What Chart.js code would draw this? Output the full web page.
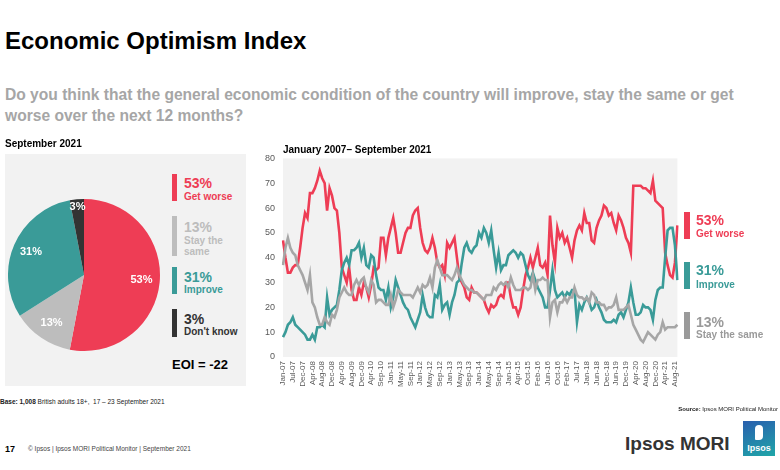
<!DOCTYPE html>
<html>
<head>
<meta charset="utf-8">
<script src="https://cdn.jsdelivr.net/npm/chart.js@4.4.1/dist/chart.umd.min.js"></script>
<style>
  html, body { margin: 0; padding: 0; background: #fff; }
  body { width: 780px; height: 470px; position: relative; overflow: hidden;
         font-family: "Liberation Sans", Arial, Helvetica, sans-serif; }
  .t { position: absolute; white-space: nowrap; }
  .box { position: absolute; }
  canvas { position: absolute; }
</style>
</head>
<body>
<div class="box" style="left:5px;top:154px;width:241px;height:232px;background:#f2f2f2"></div>
<canvas id="pieChart" width="152" height="152" style="left:8px;top:199px"></canvas>
<canvas id="lineChart" width="451" height="255" style="left:240px;top:145px"></canvas>
<div class="box" style="left:743px;top:421px;width:32px;height:35px;background:linear-gradient(160deg,#2a5fae,#1fa6a8)">
  <div style="position:absolute;left:12px;top:4px;width:8px;height:15px;border-radius:4px 4px 4px 1px;background:#fff"></div>
  <div style="position:absolute;left:0;right:0;bottom:3px;text-align:center;color:#fff;font-size:9px;font-weight:bold;line-height:9px">Ipsos</div>
</div>
<script>
const red = "#ee3d55";
const teal = "#3a9b98";
const lineGray = "#a6a6a6";
const pieGray = "#bdbdbd";
const dark = "#333333";

// September 2021 snapshot
const pieLabels = ["Get worse", "Stay the same", "Improve", "Don't know"];
const pieValues = [53, 13, 31, 3];

// Monthly series, Jan-07 to Sep-21
const tickLabels = ["Jan-07","Jul-07","Dec-07","Apr-08","Aug-08","Dec-08","Apr-09","Aug-09","Dec-09","Apr-10",
  "Sep-10","Jan-11","May-11","Sep-11","Jan-12","May-12","Sep-12","Jan-13","May-13","Sep-13",
  "Jan-14","May-14","Sep-14","Jan-15","Apr-15","Oct-15","Feb-16","Jun-16","Oct-16","Feb-17",
  "Jul-17","Jan-18","Jun-18","Dec-18","Jun-19","Dec-19","Apr-20","Aug-20","Dec-20","Apr-21","Aug-21"];
const tickEvery = 4;

const getWorse = [
  47,40,34,34,36,37,37,44,52,58, 56,66,66,68,71,75,72,70,59,68,
  65,60,59,50,36,33,30,36,27,23, 23,28,25,30,28,24,29,36,35,36,
  48,48,41,48,52,56,50,42,42,46, 50,52,52,57,59,60,52,46,43,42,
  44,48,44,38,36,37,33,46,44,46, 48,40,32,30,28,24,23,28,26,26,
  25,24,23,20,18,21,20,21,24,25, 24,30,30,24,20,20,17,20,27,33,
  36,40,36,40,44,37,36,38,33,57, 45,38,52,48,50,46,48,44,40,47,
  51,53,51,58,54,54,47,46,52,55, 57,61,60,57,58,54,51,57,55,52,
  48,46,42,69,69,69,69,68,68,67, 66,71,63,62,61,60,42,37,33,32,
  38,53
];
const improve = [
  8,10,13,14,16,13,12,11,10,9, 7,7,9,7,12,12,13,12,24,17,
  19,20,21,27,35,38,40,37,43,43, 44,46,40,44,37,36,41,40,33,28,
  27,27,23,28,20,24,31,28,25,22, 20,19,16,14,12,15,18,25,20,17,
  16,16,25,24,29,19,21,22,17,22, 25,30,31,38,44,46,43,42,44,45,
  50,48,52,50,46,51,43,36,42,35, 37,37,41,42,43,42,40,42,41,37,
  33,31,34,31,28,26,24,20,20,27, 35,27,24,25,26,24,26,25,27,27,
  14,21,19,22,24,22,19,20,23,20, 18,15,14,14,14,15,14,17,18,16,
  19,22,28,22,17,17,18,21,20,20, 19,15,23,27,28,28,40,51,52,52,
  45,31
];
const staySame = [
  37,44,48,44,42,41,37,35,33,30, 27,33,22,20,16,13,13,16,14,13,
  17,16,19,24,26,28,26,25,25,29, 31,29,31,32,28,26,31,29,22,23,
  23,22,21,21,25,20,23,27,26,25, 25,25,25,24,26,28,26,29,28,29,
  32,28,36,39,36,33,33,33,32,31, 33,36,33,31,29,28,27,27,26,26,
  25,24,23,25,25,25,28,27,29,30, 29,30,28,32,29,27,27,27,28,28,
  27,28,33,27,31,31,32,31,31,16, 22,23,18,22,22,24,22,24,24,28,
  25,24,24,23,24,22,26,25,22,22, 21,21,19,20,20,21,24,19,19,19,
  20,21,17,13,11,9,7,6,8,10, 9,8,7,9,10,14,11,12,12,12,
  12,13
];

const monthLabels = getWorse.map((v, i) =>
  i % tickEvery === 0 && tickLabels[i / tickEvery] ? tickLabels[i / tickEvery] : "");

// text helper: place by baseline
const addText = (html, x, baseline, size, weight, color, align) => {
  const d = document.createElement("div");
  d.className = "t";
  d.innerHTML = html;
  d.style.fontSize = size + "px";
  d.style.lineHeight = size + "px";
  d.style.fontWeight = weight;
  d.style.color = color;
  d.style.top = (baseline - 0.83 * size) + "px";
  if (align === "right") d.style.right = (780 - x) + "px";
  else d.style.left = x + "px";
  document.body.appendChild(d);
};
const addBar = (x, y, w, h, color) => {
  const d = document.createElement("div");
  d.className = "box";
  Object.assign(d.style, { left: x + "px", top: y + "px", width: w + "px", height: h + "px", background: color });
  document.body.appendChild(d);
};

addText("Economic Optimism Index", 5, 49, 24, "bold", "#000");
addText("Do you think that the general economic condition of the country will improve, stay the same or get", 5, 100, 15.6, "bold", "#a6a6a6");
addText("worse over the next 12 months?", 5, 121, 15.6, "bold", "#a6a6a6");
addText("September 2021", 5, 147, 10, "bold", "#000");
addText("January 2007– September 2021", 283, 153, 10, "bold", "#000");

// pie legend
addBar(172, 174, 5, 27, red);
addText("53%", 184, 188, 14, "bold", red);
addText("Get worse", 184, 200, 10, "bold", red);
addBar(172, 216, 5, 40, pieGray);
addText("13%", 184, 232, 14, "bold", pieGray);
addText("Stay the", 184, 244, 10, "bold", pieGray);
addText("same", 184, 255, 10, "bold", pieGray);
addBar(172, 267, 5, 27, teal);
addText("31%", 184, 282, 14, "bold", teal);
addText("Improve", 184, 293, 10, "bold", teal);
addBar(172, 309, 5, 28, dark);
addText("3%", 184, 324, 14, "bold", dark);
addText("Don't know", 184, 335, 10, "bold", dark);
addText("EOI = -22", 172, 369, 13, "bold", "#000");

// line chart end labels
addBar(684, 212, 6, 27, red);
addText("53%", 696, 225, 14, "bold", red);
addText("Get worse", 696, 237, 10, "bold", red);
addBar(684, 262, 6, 27, teal);
addText("31%", 696, 275, 14, "bold", teal);
addText("Improve", 696, 288, 10, "bold", teal);
addBar(684, 312, 6, 27, "#9a9a9a");
addText("13%", 696, 327, 14, "bold", "#9a9a9a");
addText("Stay the same", 696, 338, 10, "bold", "#9a9a9a");

addText("<b>Base: 1,008</b> British adults 18+,&nbsp; 17 – 23 September 2021", 0, 404, 6.5, "normal", "#222");
addText("<b>Source:</b> Ipsos MORI Political Monitor", 778, 411, 6, "normal", "#222", "right");
addText("17", 5, 452, 9, "bold", "#000");
addText("© Ipsos | Ipsos MORI Political Monitor | September 2021", 28, 451, 6.5, "normal", "#444");
addText("Ipsos MORI", 625, 450, 19, "bold", "#333");

// pie
const pieLabelPlugin = {
  id: "pieLabels",
  afterDatasetsDraw(chart) {
    const ctx = chart.ctx;
    const meta = chart.getDatasetMeta(0);
    ctx.save();
    ctx.fillStyle = "#fff";
    ctx.font = "bold 11px 'Liberation Sans', Arial, sans-serif";
    ctx.textAlign = "center";
    ctx.textBaseline = "middle";
    meta.data.forEach((arc, i) => {
      const p = arc.getProps(["x", "y", "startAngle", "endAngle", "outerRadius"], true);
      const mid = (p.startAngle + p.endAngle) / 2;
      const r = p.outerRadius * (pieValues[i] < 5 ? 0.9 : 0.76);
      ctx.fillText(pieValues[i] + "%", p.x + Math.cos(mid) * r, p.y + Math.sin(mid) * r);
    });
    ctx.restore();
  },
};

new Chart(document.getElementById("pieChart"), {
  type: "pie",
  data: {
    labels: pieLabels,
    datasets: [{ data: pieValues, backgroundColor: [red, pieGray, teal, dark], borderWidth: 0 }],
  },
  options: {
    responsive: false,
    animation: false,
    devicePixelRatio: 1,
    layout: { padding: 0 },
    plugins: { legend: { display: false }, tooltip: { enabled: false } },
  },
  plugins: [pieLabelPlugin],
});

// line
const plotBg = {
  id: "plotBg",
  beforeDraw(chart) {
    const { ctx, chartArea: a } = chart;
    ctx.save();
    ctx.fillStyle = "#f2f2f2";
    ctx.fillRect(a.left, a.top, a.right - a.left, a.bottom - a.top);
    ctx.restore();
  },
};

const lineDs = (label, data, color) => ({
  label, data, borderColor: color, backgroundColor: color,
  borderWidth: 2.6, pointRadius: 0, tension: 0, fill: false,
});

new Chart(document.getElementById("lineChart"), {
  type: "line",
  data: {
    labels: monthLabels,
    datasets: [
      lineDs("Stay the same", staySame, lineGray),
      lineDs("Improve", improve, teal),
      lineDs("Get worse", getWorse, red),
    ],
  },
  options: {
    responsive: false,
    animation: false,
    devicePixelRatio: 1,
    layout: { padding: 0 },
    plugins: { legend: { display: false }, tooltip: { enabled: false } },
    scales: {
      x: {
        grid: { display: false, drawTicks: false },
        border: { display: false },
        ticks: {
          autoSkip: false, maxRotation: 90, minRotation: 90, padding: 4,
          color: "#595959", font: { size: 8, family: "'Liberation Sans', Arial, sans-serif" },
        },
        afterFit: (s) => { s.height = 43; },
      },
      y: {
        min: 0, max: 80,
        grid: { display: false, drawTicks: false },
        border: { display: false },
        ticks: {
          stepSize: 10, padding: 8,
          color: "#595959", font: { size: 9, family: "'Liberation Sans', Arial, sans-serif" },
        },
        afterFit: (s) => { s.width = 43; },
      },
    },
  },
  plugins: [plotBg],
});
</script>
</body>
</html>
